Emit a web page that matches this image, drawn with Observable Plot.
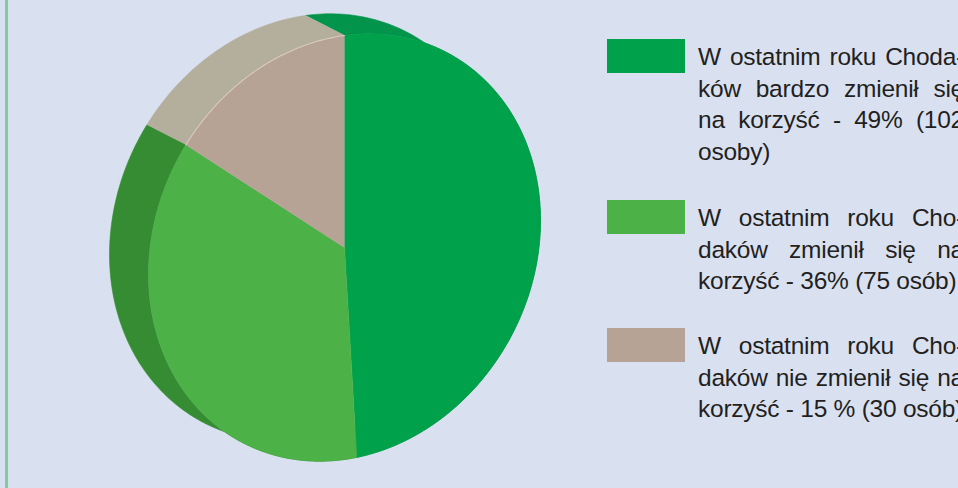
<!DOCTYPE html>
<html><head><meta charset="utf-8">
<script src="https://cdn.jsdelivr.net/npm/d3@7"></script>
<script src="https://cdn.jsdelivr.net/npm/@observablehq/plot@0.6"></script>
<style>
html,body{margin:0;padding:0;width:958px;height:488px;overflow:hidden;background:#d9e1f1;}
#wrap{position:relative;width:958px;height:488px;overflow:hidden;}
#chart svg{display:block;}
.frame{position:absolute;left:5px;top:0;width:2.5px;height:488px;background:#80cd9b;}
.sw{position:absolute;left:607px;width:78px;height:34px;}
.para{position:absolute;left:698px;width:266px;font-family:"Liberation Sans",Arial,Helvetica,sans-serif;font-size:24.5px;letter-spacing:-0.25px;line-height:31.7px;color:#231f20;}
.para div{text-align:justify;text-align-last:justify;}
.para div.last{text-align:left;text-align-last:left;white-space:nowrap;}
</style></head>
<body>
<div id="wrap"><div id="chart"></div><div class="frame"></div></div>
<script>
// ---- data ----
const categories = ["bardzo zmienił się na korzyść", "zmienił się na korzyść", "nie zmienił się na korzyść"];
const percents = [49, 36, 15];
const counts = [102, 75, 30];
const legendLines = [
  ["W ostatnim roku Choda-", "ków bardzo zmienił się", "na korzyść - 49% (102", "osoby)"],
  ["W ostatnim roku Cho-", "daków zmienił się na", "korzyść - 36% (75 osób)"],
  ["W ostatnim roku Cho-", "daków nie zmienił się na", "korzyść - 15 % (30 osób)"]
];
const topColors = ["#00a14b", "#4cb147", "#b7a396"];
const sideColors = ["#01944a", "#358c33", "#b4ae9c"];

// ---- 3D view parameters ----
const shear = -27 / 212;               // tilt of the top face
const depth = [-39 / 196, -20 / 212];  // extrusion direction (unit coords)

const arcs = d3.pie().sort(null).value(d => d)(percents);
const step = Math.PI / 180;
function pt(a, back) {
  const u = Math.sin(a), v = -Math.cos(a) + shear * Math.sin(a);
  return back ? {x: u + depth[0], y: v + depth[1]} : {x: u, y: v};
}
function angleRange(a0, a1) {
  const n = Math.max(2, Math.ceil((a1 - a0) / step));
  return d3.range(n + 1).map(i => a0 + (a1 - a0) * i / n);
}
const sides = [], tops = [], rims = [];
arcs.forEach((arc, i) => {
  const angles = angleRange(arc.startAngle, arc.endAngle);
  const s = [];
  angles.forEach(a => s.push({id: i, ...pt(a, false)}));
  angles.slice().reverse().forEach(a => s.push({id: i, ...pt(a, true)}));
  sides.push(s);
  tops.push({id: i, cat: categories[i], x: 0, y: 0});
  angles.forEach(a => tops.push({id: i, cat: categories[i], ...pt(a, false)}));
  rims.push(angles.map(a => ({id: i, ...pt(a, false)})));
});

const chart = Plot.plot({
  width: 958, height: 488, margin: 0,
  x: {domain: [-1, 1], range: [148, 540], axis: null},
  y: {domain: [-1, 1], range: [35, 459], axis: null},
  color: {domain: categories, range: topColors},
  style: {background: "transparent", overflow: "visible"},
  marks: [
    ...sides.map((s, i) => Plot.line(s, {x: "x", y: "y", fill: sideColors[i], stroke: sideColors[i], strokeWidth: 0.6})),
    Plot.line(tops, {x: "x", y: "y", z: "id", fill: "cat", stroke: "cat", strokeWidth: 0.6}),
    Plot.line(rims[2], {x: "x", y: "y", stroke: "#d8cbc1", strokeWidth: 1.1})
  ]
});
document.getElementById("chart").appendChild(chart);

// ---- legend ----
const wrap = document.getElementById("wrap");
const swatchTops = [39, 200, 328];
const paraTops = [41, 202, 330];
legendLines.forEach((lines, i) => {
  const sw = document.createElement("div");
  sw.className = "sw";
  sw.style.top = swatchTops[i] + "px";
  sw.style.background = chart.scale("color").apply(categories[i]);
  wrap.appendChild(sw);
  const p = document.createElement("div");
  p.className = "para";
  p.style.top = paraTops[i] + "px";
  lines.forEach((t, j) => {
    const l = document.createElement("div");
    if (j === lines.length - 1) l.className = "last";
    l.textContent = t;
    p.appendChild(l);
  });
  wrap.appendChild(p);
});
</script>
</body></html>
